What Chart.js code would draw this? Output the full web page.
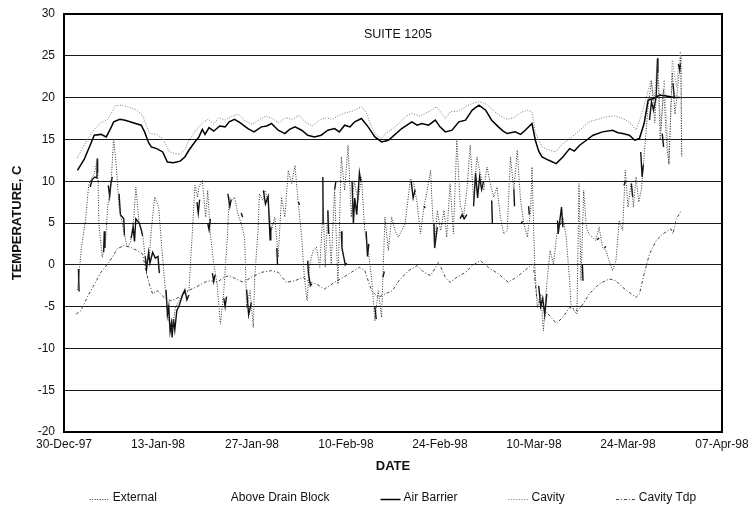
<!DOCTYPE html>
<html>
<head>
<meta charset="utf-8">
<script src="https://cdn.jsdelivr.net/npm/chart.js@4.4.1/dist/chart.umd.min.js"></script>
<style>
  html, body { margin: 0; padding: 0; background: #fff; }
  canvas { display: block; }
</style>
</head>
<body>
<canvas id="chart" width="748" height="507"></canvas>
<script>
// Day 0 = 30-Dec-97; ticks every 14 days
const dateLabels = ['30-Dec-97', '13-Jan-98', '27-Jan-98', '10-Feb-98', '24-Feb-98', '10-Mar-98', '24-Mar-98', '07-Apr-98'];
const yTicks = { min: -20, max: 30, step: 5 };

// [day, temperature C]
const external = [
  [2.0,-3.0],[2.3,-0.5],[2.6,2.1],[3.2,5.3],[3.7,9.7],[4.5,10.9],[5.0,12.7],[5.2,4.9],[5.7,0.9],[6.2,2.9],
  [6.5,6.9],[7.0,9.7],[7.4,15.1],[7.8,11.7],[8.2,6.9],[8.9,4.1],[9.4,2.1],[9.9,2.7],[10.4,5.7],[10.7,9.3],
  [11.2,4.9],[11.7,3.7],[12.2,0.1],[12.7,0.9],[13.0,4.1],[13.5,8.1],[14.1,6.9],[14.6,1.7],[15.1,-3.1],[15.6,-6.7],
  [16.1,-7.9],[16.6,-5.1],[17.4,-3.9],[17.9,-3.5],[18.6,-3.1],[19.1,3.7],[19.5,9.5],[19.9,8.1],[20.1,9.3],[20.6,10.1],
  [21.1,5.7],[21.4,8.9],[21.8,3.7],[22.3,0.1],[22.8,-2.3],[23.3,-7.1],[23.8,-3.1],[24.3,2.9],[24.6,8.1],[25.0,7.7],
  [25.4,8.1],[25.9,6.1],[26.4,4.9],[26.9,3.3],[27.2,-5.1],[27.7,-3.1],[28.2,-7.5],[28.4,-1.5],[28.9,4.1],[29.1,8.5],
  [29.6,7.7],[30.0,8.9],[30.4,7.3],[30.9,4.1],[31.4,5.7],[31.9,0.9],[32.4,8.1],[32.9,5.7],[33.4,11.3],[33.9,9.7],
  [34.4,11.9],[34.9,7.3],[35.4,3.3],[35.8,-1.5],[36.2,-4.3],[36.6,0.1],[37.1,1.7],[37.6,2.1],[38.1,-0.3],[38.6,6.9],
  [38.9,-0.3],[39.3,6.5],[39.8,0.1],[40.3,8.9],[40.8,-2.3],[41.3,12.9],[41.8,8.9],[42.3,14.3],[42.8,5.7],[43.2,10.1],
  [43.8,7.7],[44.3,10.5],[44.8,4.1],[45.3,1.7],[45.8,-1.5],[46.3,-6.7],[46.8,-3.1],[47.3,-6.3],[47.8,5.7],[48.3,1.7],
  [48.8,5.7],[49.3,4.1],[49.8,3.3],[50.3,4.1],[50.8,4.9],[51.6,10.3],[52.1,9.7],[52.6,7.3],[53.1,3.7],[53.6,6.9],
  [54.1,8.9],[54.6,11.3],[54.8,7.7],[55.2,2.1],[55.6,6.5],[56.1,4.1],[56.6,6.5],[57.0,3.3],[57.5,9.7],[58.0,3.7],
  [58.5,14.9],[59.0,7.3],[59.5,5.7],[60.0,8.9],[60.5,14.3],[61.0,7.7],[61.5,12.9],[62.0,10.9],[62.5,8.9],[63.0,11.7],
  [63.5,9.7],[64.0,8.1],[64.5,9.3],[65.0,5.7],[65.5,3.7],[66.0,4.1],[66.5,12.9],[67.0,8.9],[67.5,13.7],[68.0,7.7],
  [68.5,4.9],[69.0,3.3],[69.5,6.5],[69.7,11.7],[70.1,0.1],[70.5,-5.1],[71.0,-3.5],[71.4,-7.9],[71.9,-2.3],[72.4,1.7],
  [72.9,0.1],[73.4,3.7],[73.8,4.5],[74.3,5.7],[74.8,3.3],[75.3,-1.9],[75.5,-4.7],[76.0,-5.5],[76.4,-5.9],[76.7,9.7],
  [77.0,-1.9],[77.4,8.9],[77.8,4.5],[78.2,3.7],[78.7,3.3],[79.2,2.9],[79.7,4.5],[80.2,2.1],[80.7,1.7],[81.2,0.5],
  [81.7,-0.7],[82.2,0.5],[82.7,5.3],[83.2,4.1],[83.6,11.3],[84.0,6.9],[84.5,10.1],[84.8,6.9],[85.2,10.5],[85.6,7.5],
  [86.0,9.0],[86.5,14.0],[87.0,19.0],[87.5,22.0],[88.0,17.0],[88.4,24.0],[88.8,15.0],[89.3,21.0],[89.8,14.0],[90.1,12.0],
  [90.6,23.0],[91.0,18.0],[91.5,22.0],[91.9,25.0],[92.0,13.0]
];

// logged only over short stretches; null marks a gap
const aboveDrainBlock = [
  [2.15,-0.5],[2.2,-2.0],[2.25,-3.2],[2.3,null],
  [3.9,9.3],[4.2,10.2],[4.6,10.5],[4.9,10.4],[4.95,12.7],[5.0,11.0],[5.1,null],
  [5.9,1.5],[6.0,4.0],[6.1,2.0],[6.2,null],
  [6.6,9.5],[6.8,8.2],[7.0,9.8],[7.2,10.5],[7.3,null],
  [8.2,8.5],[8.4,6.0],[8.9,5.5],[9.0,3.5],[9.1,null],
  [10.0,3.2],[10.3,4.5],[10.5,2.8],[10.7,5.5],[11.2,5.0],[11.5,4.2],[11.7,3.5],[11.8,null],
  [12.1,1.0],[12.3,-0.5],[12.6,1.5],[12.8,0.2],[13.2,1.5],[13.6,0.8],[14.0,1.0],[14.2,-1.0],[14.3,null],
  [15.2,-3.0],[15.4,-6.0],[15.6,-5.0],[15.8,-8.0],[16.0,-7.0],[16.1,-8.7],[16.3,-6.5],[16.5,-7.8],[16.8,-5.5],[17.1,-5.0],
  [17.7,-3.5],[18.0,-3.0],[18.3,-4.2],[18.6,-3.6],[18.7,null],
  [19.8,7.5],[20.0,6.2],[20.2,7.8],[20.3,null],
  [21.4,5.0],[21.6,4.2],[21.8,5.5],[21.9,null],
  [22.1,-1.0],[22.3,-2.0],[22.5,-1.2],[22.6,null],
  [23.8,-4.0],[24.0,-5.0],[24.2,-3.8],[24.3,null],
  [24.4,8.5],[24.7,7.0],[24.9,7.8],[25.0,null],
  [26.4,6.2],[26.6,5.7],[26.7,null],
  [27.2,-3.0],[27.5,-6.0],[27.9,-4.5],[28.0,null],
  [29.7,8.9],[30.0,7.3],[30.4,8.2],[30.7,3.0],[30.8,4.5],[30.9,null],
  [31.7,2.0],[31.8,0.0],[31.9,null],
  [34.9,7.5],[35.1,7.2],[35.2,null],
  [36.3,0.5],[36.4,-1.0],[36.7,-2.5],[36.9,-2.3],[37.0,null],
  [38.55,10.5],[38.6,4.9],[38.7,null],
  [39.3,6.5],[39.4,3.7],[39.5,null],
  [40.3,9.0],[40.5,10.0],[40.6,null],
  [41.3,4.0],[41.4,2.0],[41.9,0.0],[42.1,0.2],[42.2,null],
  [42.9,10.0],[43.1,5.0],[43.3,8.0],[43.6,6.0],[44.0,11.0],[44.2,10.0],[44.3,null],
  [45.0,4.0],[45.2,1.0],[45.4,2.5],[45.5,null],
  [46.3,-5.0],[46.5,-6.5],[46.6,null],
  [47.5,-1.5],[47.7,-0.8],[47.8,null],
  [51.7,10.0],[52.0,8.0],[52.3,9.0],[52.4,null],
  [53.6,7.0],[53.8,6.8],[53.9,null],
  [55.1,5.0],[55.2,2.0],[55.6,4.5],[55.7,null],
  [59.0,5.5],[59.3,6.0],[59.6,5.5],[60.0,6.0],[60.1,null],
  [61.0,7.0],[61.3,11.0],[61.6,8.0],[61.9,10.5],[62.2,9.0],[62.5,10.0],[62.6,null],
  [63.7,7.7],[63.8,5.0],[63.9,null],
  [67.0,9.0],[67.1,7.0],[67.2,null],
  [68.1,5.0],[68.3,5.2],[68.4,null],
  [69.2,7.0],[69.3,6.0],[69.4,null],
  [70.7,-2.5],[71.0,-5.0],[71.3,-4.0],[71.6,-6.0],[71.9,-3.5],[72.0,null],
  [73.5,5.3],[73.6,3.7],[74.1,6.9],[74.3,4.5],[74.4,null],
  [77.2,0.1],[77.3,-1.9],[77.4,null],
  [79.4,3.0],[79.7,3.2],[79.8,null],
  [80.5,2.0],[80.7,2.2],[80.8,null],
  [83.4,9.5],[83.6,10.0],[83.7,null],
  [84.5,9.7],[84.7,8.1],[84.8,null],
  [85.9,13.5],[86.1,10.5],[86.3,12.0],[86.4,null],
  [87.2,17.3],[87.5,19.5],[87.8,18.5],[88.2,20.1],[88.4,24.7],[88.45,23.0],[88.5,null],
  [89.1,15.7],[89.3,14.1],[89.4,null],
  [90.7,21.7],[90.9,20.0],[91.0,null],
  [91.5,24.0],[91.7,23.3],[91.8,24.0]
];

const airBarrier = [
  [2.0,11.3],[3.0,12.6],[4.0,14.5],[4.5,15.5],[5.5,15.6],[6.3,15.3],[7.0,16.4],[7.4,17.1],[8.3,17.4],[9.1,17.3],
  [10.3,17.0],[11.5,16.7],[12.0,15.9],[12.6,14.6],[13.0,14.1],[13.8,13.9],[14.7,13.5],[15.4,12.3],[16.3,12.2],[17.3,12.4],
  [18.0,12.9],[18.6,13.7],[19.4,14.6],[20.1,15.3],[20.6,16.2],[21.0,15.6],[21.6,16.4],[22.3,16.0],[23.2,16.6],[24.0,16.5],
  [24.6,17.1],[25.4,17.4],[26.2,17.0],[27.4,16.3],[28.3,15.9],[29.4,16.5],[30.2,16.6],[30.9,16.9],[31.9,16.1],[32.9,15.7],
  [33.6,16.2],[34.4,16.5],[35.4,16.1],[36.3,15.5],[37.3,15.3],[38.3,15.5],[39.3,16.1],[40.3,16.3],[41.0,15.9],[41.8,16.7],
  [42.6,16.5],[43.3,17.1],[44.3,17.5],[45.3,16.5],[46.3,15.3],[47.3,14.7],[48.3,14.9],[48.9,15.3],[50.3,16.3],[51.8,17.1],
  [52.6,16.7],[53.3,16.9],[54.3,16.7],[55.3,17.3],[56.0,16.5],[56.8,15.9],[57.8,16.1],[58.8,17.1],[59.8,17.3],[60.8,18.5],
  [61.8,19.1],[62.8,18.5],[63.7,17.3],[64.7,16.5],[65.4,16.0],[66.0,15.7],[67.2,15.9],[68.0,15.6],[68.7,16.1],[69.7,16.9],
  [70.2,14.9],[70.7,13.6],[71.2,12.9],[72.2,12.5],[73.3,12.1],[74.3,12.9],[75.3,13.9],[76.0,13.6],[76.8,14.3],[77.8,14.9],
  [78.8,15.5],[80.2,15.9],[81.7,16.1],[82.5,15.8],[83.2,15.7],[84.2,15.5],[85.0,14.9],[85.7,15.1],[86.4,16.9],[87.0,19.7],
  [87.8,19.9],[88.7,20.3],[89.7,20.2],[90.9,20.0],[91.7,20.0]
];

const cavity = [
  [2.0,12.8],[3.0,14.3],[3.5,15.0],[4.5,16.2],[5.5,17.0],[6.5,17.4],[7.3,18.5],[7.6,19.0],[8.5,19.1],[9.5,18.9],
  [10.8,18.5],[11.7,17.9],[12.3,16.6],[12.8,15.7],[13.8,15.6],[14.7,15.1],[15.7,13.5],[16.5,13.3],[17.3,13.2],[18.0,13.8],
  [18.6,14.9],[19.4,15.8],[20.1,16.5],[20.8,17.1],[21.5,17.4],[22.3,16.8],[23.0,17.6],[24.0,17.3],[25.0,17.8],[26.0,18.0],
  [27.0,17.2],[28.0,16.8],[29.0,17.3],[30.0,17.8],[31.0,17.5],[32.0,17.0],[33.0,17.6],[34.0,17.4],[35.0,17.9],[36.0,17.0],
  [37.0,16.6],[38.0,17.3],[39.0,17.6],[40.0,17.4],[41.0,17.9],[42.0,18.2],[43.0,18.4],[44.3,18.9],[45.0,18.2],[45.8,16.5],
  [46.5,15.5],[47.3,15.1],[48.0,15.8],[49.0,16.3],[50.0,17.0],[51.0,17.8],[51.8,18.1],[53.0,17.8],[54.5,18.4],[55.5,18.9],
  [56.8,17.5],[57.5,18.3],[58.8,18.4],[60.0,19.0],[60.8,19.3],[61.8,19.5],[63.0,19.2],[64.0,18.4],[65.0,17.8],[66.0,17.4],
  [67.0,17.6],[68.0,18.2],[69.0,18.5],[69.7,18.3],[70.2,15.8],[71.2,14.1],[72.0,13.8],[73.2,13.5],[74.3,14.5],[75.5,15.2],
  [76.8,16.1],[78.2,17.1],[79.5,17.4],[80.7,17.7],[82.0,17.8],[83.2,17.5],[84.2,17.1],[85.2,16.1],[85.9,17.7],[86.7,19.9],
  [87.4,22.1],[87.9,19.7],[88.4,24.7],[88.9,16.1],[89.4,22.1],[90.1,12.1],[90.6,24.5],[91.2,21.3],[91.8,25.5],[92.0,12.9]
];

const cavityTdp = [
  [1.8,-5.9],[2.5,-5.5],[3.7,-3.5],[4.7,-2.1],[5.5,-0.9],[6.5,0.1],[7.2,0.9],[7.9,1.9],[8.9,2.3],[9.9,2.1],
  [10.9,1.7],[11.7,1.3],[12.2,-0.7],[12.7,-2.3],[13.2,-3.5],[13.9,-3.1],[14.9,-3.9],[15.9,-4.3],[17.1,-3.9],[18.4,-3.1],
  [19.6,-2.7],[20.9,-2.1],[21.8,-1.9],[22.8,-2.1],[23.8,-1.5],[24.6,-1.3],[25.4,-1.6],[26.7,-2.1],[27.9,-1.5],[29.4,-0.9],
  [30.9,-0.7],[31.9,-0.9],[33.1,-2.1],[34.4,-1.9],[35.6,-1.5],[36.6,-2.1],[37.6,-2.3],[38.8,-2.9],[40.3,-2.1],[41.6,-1.5],
  [42.8,-0.9],[44.0,-0.3],[44.8,-0.7],[45.8,-3.1],[46.8,-3.9],[47.8,-3.5],[48.9,-3.1],[49.9,-1.9],[51.3,-0.7],[52.6,-0.1],
  [53.6,-0.9],[54.6,-1.3],[55.8,0.3],[56.8,-1.5],[57.5,-2.1],[58.5,-1.5],[59.8,-0.9],[60.8,-0.1],[62.0,0.5],[63.2,-0.3],
  [64.7,-1.1],[66.2,-2.1],[67.7,-1.3],[69.2,-0.3],[69.9,0.1],[70.4,-3.9],[71.7,-5.5],[73.3,-7.0],[74.3,-6.3],[75.3,-5.1],
  [76.5,-5.5],[77.3,-4.7],[78.2,-3.5],[79.7,-2.3],[81.2,-1.7],[82.2,-1.9],[83.2,-2.7],[84.2,-3.3],[85.2,-3.9],[85.7,-3.5],
  [86.4,-1.1],[87.2,1.3],[88.2,2.9],[89.2,3.7],[90.4,4.3],[90.7,3.7],[91.2,5.5],[91.9,6.4]
];

const FONT = 'Arial, "Liberation Sans", Helvetica, sans-serif';
const toPoints = arr => arr.map(([x, y]) => ({ x, y }));

// frame, inner caption and the legend row
const decorations = {
  id: 'decorations',
  afterDatasetsDraw(chart) {
    const { ctx, chartArea: a } = chart;
    ctx.save();
    ctx.strokeStyle = '#000';
    ctx.lineWidth = 2;
    ctx.strokeRect(a.left, a.top, a.right - a.left, a.bottom - a.top);
    ctx.restore();
  },
  afterDraw(chart) {
    const { ctx, chartArea: a } = chart;
    ctx.save();
    ctx.fillStyle = '#111';
    ctx.font = '12.5px ' + FONT;
    ctx.textAlign = 'center';
    ctx.textBaseline = 'middle';
    ctx.fillText('SUITE 1205', (a.left + a.right) / 2 + 5, a.top + 21);

    // legend
    ctx.font = '12px ' + FONT;
    const sampleW = 20, textGap = 3, itemGap = 51, y = 498;
    const sets = chart.data.datasets;
    const widths = sets.map(d => sampleW + textGap + ctx.measureText(d.label).width);
    const total = widths.reduce((s, w) => s + w, 0) + itemGap * (sets.length - 1);
    let x = (a.left + a.right) / 2 - total / 2;
    ctx.textAlign = 'left';
    sets.forEach((d, i) => {
      if (d.legendSample !== false) {
        ctx.save();
        ctx.strokeStyle = d.borderColor;
        ctx.lineWidth = d.borderWidth;
        ctx.setLineDash(d.borderDash || []);
        ctx.beginPath();
        ctx.moveTo(x, y + 1.5);
        ctx.lineTo(x + sampleW, y + 1.5);
        ctx.stroke();
        ctx.restore();
      }
      ctx.fillStyle = '#111';
      ctx.fillText(d.label, x + sampleW + textGap, y);
      x += widths[i] + itemGap;
    });
    ctx.restore();
  }
};

new Chart(document.getElementById('chart'), {
  type: 'line',
  data: {
    datasets: [
      { label: 'External', data: toPoints(external), borderColor: '#333', borderWidth: 1, borderDash: [1, 1.5] },
      { label: 'Above Drain Block', data: toPoints(aboveDrainBlock), borderColor: '#111', borderWidth: 1.4, spanGaps: false, legendSample: false },
      { label: 'Air Barrier', data: toPoints(airBarrier), borderColor: '#000', borderWidth: 1.5 },
      { label: 'Cavity', data: toPoints(cavity), borderColor: '#7a7a7a', borderWidth: 1, borderDash: [1, 1.6] },
      { label: 'Cavity Tdp', data: toPoints(cavityTdp), borderColor: '#444', borderWidth: 1, borderDash: [3, 2, 1, 2] }
    ]
  },
  options: {
    responsive: false,
    devicePixelRatio: 1,
    animation: false,
    parsing: true,
    elements: { point: { radius: 0 }, line: { tension: 0, fill: false } },
    layout: { padding: { top: 14, right: 26, bottom: 27, left: 0 } },
    plugins: { legend: { display: false }, tooltip: { enabled: false } },
    scales: {
      x: {
        type: 'linear',
        min: 0,
        max: 98,
        grid: { display: false, drawTicks: false },
        border: { display: false },
        ticks: {
          stepSize: 14,
          autoSkip: false,
          maxRotation: 0,
          padding: 5,
          color: '#111',
          font: { family: FONT, size: 12 },
          callback: v => dateLabels[Math.round(v / 14)]
        },
        title: { display: true, text: 'DATE', color: '#111', font: { family: FONT, size: 13, weight: 'bold' }, padding: { top: 0, bottom: 6 } },
        afterFit(s) { s.height = 48; s.paddingLeft = 0; s.paddingRight = 0; }
      },
      y: {
        min: yTicks.min,
        max: yTicks.max,
        grid: { color: '#1a1a1a', lineWidth: 1, drawTicks: false },
        border: { display: false },
        ticks: { stepSize: yTicks.step, padding: 9, color: '#111', font: { family: FONT, size: 12 } },
        title: { display: true, text: 'TEMPERATURE, C', color: '#111', font: { family: FONT, size: 13, weight: 'bold' }, padding: { top: 10, bottom: 0 } },
        afterFit(s) { s.width = 64; s.paddingTop = 0; s.paddingBottom = 0; }
      }
    }
  },
  plugins: [decorations]
});
</script>
</body>
</html>
